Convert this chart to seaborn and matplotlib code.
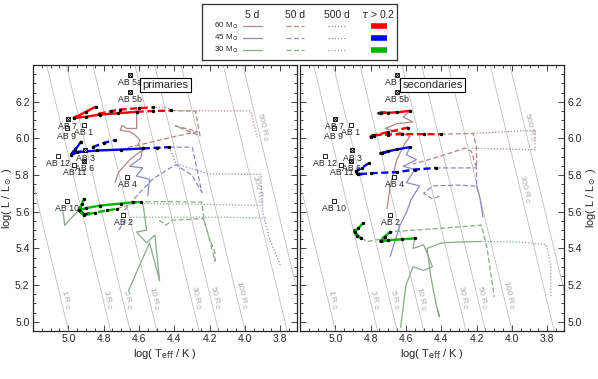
import numpy as np
import matplotlib
matplotlib.use('Agg')
import matplotlib.pyplot as plt
import seaborn as sns

sns.set_style('ticks')
plt.rcParams['font.family'] = ['Liberation Sans', 'DejaVu Sans']
plt.rcParams['mathtext.fontset'] = 'dejavusans'

# colours
C60, C45, C30 = '#b38686', '#8b8bbf', '#8aa98a'
T60, T45, T30 = '#ff0000', '#0000ff', '#00b400'

# observed stars (log Teff, log L)
AB_NAMES = ['AB 1', 'AB 2', 'AB 3', 'AB 4', 'AB 5a', 'AB 5b', 'AB 6', 'AB 7', 'AB 9', 'AB 10', 'AB 11', 'AB 12']
AB_T = [4.911, 4.690, 4.904, 4.665, 4.652, 4.652, 4.909, 5.004, 5.009, 5.005, 4.965, 5.061]
AB_L = [6.073, 5.580, 5.934, 5.789, 6.348, 6.252, 5.879, 6.104, 6.054, 5.658, 5.857, 5.905]
AB_CROSS = [False, False, True, False, True, True, True, True, False, False, False, False]

# radius lines
RADII = [1, 3, 5, 10, 30, 50, 100, 300, 500]
RAD_LABEL_L = {1: 5.12, 3: 5.12, 5: 5.12, 10: 5.125, 30: 5.13, 50: 5.13, 100: 5.145, 300: 5.72, 500: 6.06}

# ---------------- primaries ----------------
P60_5D_TAU_T = [4.846, 4.90, 4.967, 4.90, 4.818, 4.72, 4.613]
P60_5D_TAU_L = [6.172, 6.145, 6.112, 6.118, 6.130, 6.137, 6.145]
P60_5D_T = [4.613, 4.613, 4.668, 4.696, 4.706, 4.65, 4.622, 4.594, 4.604, 4.578, 4.652, 4.717, 4.735]
P60_5D_L = [6.145, 6.054, 6.054, 6.071, 6.045, 6.036, 6.018, 5.991, 5.964, 5.938, 5.884, 5.813, 5.759]
P60_50D_TAU_T = [4.613, 4.52, 4.42]
P60_50D_TAU_L = [6.145, 6.149, 6.152]
P60_50D_T = [4.42, 4.28, 4.254, 4.393, 4.30, 4.27, 4.40, 4.55, 4.678]
P60_50D_L = [6.152, 6.148, 6.014, 6.068, 6.045, 6.036, 6.010, 5.975, 5.947]
P60_500D_TAU_T = [4.828, 4.76, 4.707, 4.60, 4.522]
P60_500D_TAU_L = [6.134, 6.148, 6.157, 6.165, 6.169]
P60_500D_T = [4.522, 4.45, 4.40, 4.20, 3.967, 3.95, 3.93]
P60_500D_L = [6.169, 6.170, 6.152, 6.150, 6.150, 6.08, 6.005]

P45_5D_TAU_T = [4.928, 4.96, 4.983, 4.95, 4.835, 4.70, 4.578]
P45_5D_TAU_L = [5.982, 5.94, 5.911, 5.925, 5.934, 5.939, 5.945]
P45_5D_T = [4.578, 4.59, 4.652, 4.578, 4.615, 4.54, 4.55]
P45_5D_L = [5.945, 5.893, 5.848, 5.839, 5.795, 5.777, 5.687]
P45_50D_TAU_T = [4.578, 4.50, 4.428]
P45_50D_TAU_L = [5.945, 5.949, 5.952]
P45_50D_T = [4.428, 4.298, 4.244, 4.30, 4.393, 4.52, 4.60, 4.689, 4.678, 4.715]
P45_50D_L = [5.952, 5.952, 5.706, 5.80, 5.857, 5.78, 5.70, 5.60, 5.55, 5.50]
P45_500D_TAU_T = [4.863, 4.80, 4.733]
P45_500D_TAU_L = [5.952, 5.975, 5.991]
P45_500D_T = [4.428, 4.39, 4.20, 3.91, 3.90, 3.86, 3.80]
P45_500D_L = [5.952, 5.86, 5.806, 5.804, 5.60, 5.45, 5.31]

P30_5D_TAU_T = [4.911, 4.925, 4.939, 4.90, 4.818, 4.70, 4.633, 4.587]
P30_5D_TAU_L = [5.67, 5.64, 5.607, 5.62, 5.634, 5.645, 5.652, 5.652]
P30_5D_T = [4.587, 4.576, 4.557, 4.613, 4.557, 4.51, 4.483, 4.54, 4.60, 4.659]
P30_5D_L = [5.652, 5.634, 5.50, 5.49, 5.43, 5.473, 5.223, 5.43, 5.30, 5.17]
P30_5D_PRE_T = [4.939, 4.99, 5.02, 5.03]
P30_5D_PRE_L = [5.607, 5.56, 5.525, 5.60]
P30_50D_TAU_T = [4.939, 4.911, 4.85, 4.78, 4.726]
P30_50D_TAU_L = [5.607, 5.58, 5.595, 5.607, 5.616]
P30_50D_T = [4.726, 4.65, 4.587, 4.40, 4.244, 4.23, 4.20, 4.17, 4.168]
P30_50D_L = [5.616, 5.64, 5.655, 5.655, 5.652, 5.55, 5.45, 5.38, 5.32]
P30_50D_B_T = [4.485, 4.448, 4.41, 4.235, 4.20, 4.17]
P30_50D_B_L = [5.554, 5.527, 5.554, 5.563, 5.45, 5.33]
P30_500D_T = [4.587, 4.40, 4.20, 3.91]
P30_500D_L = [5.645, 5.642, 5.640, 5.634]
P30_500D_B_T = [4.65, 4.40, 4.10, 3.87]
P30_500D_B_L = [5.57, 5.57, 5.57, 5.565]

# ---------------- secondaries ----------------
S60_5D_TAU_T = [4.744, 4.70, 4.65, 4.578]
S60_5D_TAU_L = [6.139, 6.140, 6.142, 6.150]
S60_5D_T = [4.578, 4.615, 4.56, 4.652, 4.717, 4.615, 4.578, 4.606, 4.652, 4.689, 4.707]
S60_5D_L = [6.150, 6.116, 6.089, 6.080, 6.054, 6.027, 6.009, 5.973, 5.884, 5.741, 5.616]
S60_50D_TAU_T = [4.587, 4.70, 4.78, 4.799, 4.78, 4.70, 4.624, 4.50, 4.403]
S60_50D_TAU_L = [6.059, 6.035, 6.015, 6.009, 6.018, 6.021, 6.023, 6.023, 6.023]
S60_50D_T = [4.403, 4.219, 4.20, 4.20, 4.23, 4.265, 4.35, 4.50, 4.56]
S60_50D_L = [6.023, 6.027, 5.95, 5.84, 5.93, 5.947, 5.92, 5.876, 5.86]
S60_500D_T = [4.219, 3.869, 3.869, 4.228]
S60_500D_L = [6.027, 6.045, 5.937, 5.947]

S45_5D_TAU_T = [4.735, 4.70, 4.65, 4.578]
S45_5D_TAU_L = [5.920, 5.930, 5.940, 5.952]
S45_5D_T = [4.578, 4.597, 4.541, 4.615, 4.55, 4.597, 4.523, 4.569, 4.597, 4.634, 4.689]
S45_5D_L = [5.952, 5.911, 5.884, 5.848, 5.830, 5.759, 5.741, 5.670, 5.598, 5.527, 5.357]
S45_50D_TAU_T = [4.808, 4.85, 4.882, 4.873, 4.80, 4.652, 4.55, 4.431]
S45_50D_TAU_L = [5.866, 5.840, 5.821, 5.804, 5.810, 5.816, 5.830, 5.839]
S45_50D_T = [4.431, 4.20, 4.20, 4.30, 4.449, 4.50, 4.45, 4.40]
S45_50D_L = [5.839, 5.839, 5.740, 5.745, 5.741, 5.700, 5.670, 5.690]
S45_50D_B_T = [4.20, 4.18, 4.164]
S45_50D_B_L = [5.74, 5.67, 5.572]

S30_5D_TAU_T = [4.689, 4.72, 4.744, 4.70, 4.62, 4.55]
S30_5D_TAU_L = [5.491, 5.465, 5.438, 5.445, 5.450, 5.455]
S30_5D_T = [4.55, 4.56, 4.50, 4.45, 4.50, 4.56, 4.60, 4.63]
S30_5D_L = [5.455, 5.40, 5.42, 5.30, 5.28, 5.30, 5.20, 4.97]
S30_5D_B_T = [4.48, 4.46, 4.43, 4.41, 4.42]
S30_5D_B_L = [5.40, 5.25, 5.10, 5.027, 5.06]
S30_5D_C_T = [4.48, 4.40, 4.30, 4.173]
S30_5D_C_L = [5.40, 5.43, 5.435, 5.438]
S30_50D_TAU_T = [4.845, 4.87, 4.891, 4.875, 4.855]
S30_50D_TAU_L = [5.536, 5.51, 5.491, 5.47, 5.455]
S30_50D_T = [4.855, 4.818, 4.75, 4.689, 4.40, 4.173, 4.14, 4.10]
S30_50D_L = [5.455, 5.438, 5.45, 5.491, 5.51, 5.527, 5.40, 5.134]
S30_500D_T = [4.173, 3.95, 3.805, 3.78, 3.78]
S30_500D_L = [5.438, 5.435, 5.42, 5.30, 5.13]

# black (observed-phase) pieces
BLACK_P_T = [[4.95, 4.967, 4.94], [4.97, 4.983, 4.96, 4.93], [4.93, 4.939, 4.91, 4.88]]
BLACK_P_L = [[6.12, 6.112, 6.117], [5.93, 5.911, 5.922, 5.927], [5.625, 5.607, 5.585, 5.59]]
BLACK_S_T = [[4.755, 4.744, 4.72], [4.79, 4.799, 4.78], [4.745, 4.735, 4.71],
             [4.882, 4.878, 4.873, 4.85], [4.89, 4.891, 4.875, 4.865], [4.72, 4.744, 4.73]]
BLACK_S_L = [[6.137, 6.139, 6.14], [6.015, 6.009, 6.016], [5.918, 5.92, 5.926],
             [5.821, 5.81, 5.804, 5.806], [5.50, 5.491, 5.47, 5.462], [5.46, 5.438, 5.44]]

LS = {'5d': '-', '50d': (0, (4, 2)), '500d': (0, (1, 1.5))}


def track(ax, t, l, color, ls, lw=0.9):
    sns.lineplot(x=t, y=l, sort=False, estimator=None, ax=ax, color=color,
                 linestyle=ls, linewidth=lw, legend=False, zorder=2)


def tau(ax, t, l, color, ls):
    sns.lineplot(x=t, y=l, sort=False, estimator=None, ax=ax, color=color,
                 linestyle=ls, linewidth=1.7, legend=False, zorder=3,
                 marker='o', markersize=1.7, markerfacecolor='k', markeredgecolor='k')


fig = plt.figure(figsize=(5.98, 3.79), dpi=100)
ax1 = fig.add_axes([33/598, 1-331/379, 264/598, 266/379])
ax2 = fig.add_axes([300/598, 1-331/379, 264/598, 266/379])

for ax in (ax1, ax2):
    ax.set_xlim(5.18, 3.705)
    ax.set_ylim(4.955, 6.40)
    # constant radius lines
    ll = np.linspace(4.9, 6.5, 20)
    for r in RADII:
        tt = 3.7613 + (ll - 2 * np.log10(r)) / 4
        ax.plot(tt, ll, color='#b4b4b4', lw=0.5, zorder=1)
        lab = RAD_LABEL_L[r]
        tl = 3.7613 + (lab - 2 * np.log10(r)) / 4
        ax.annotate(f'{r} R$_\\odot$', (tl, lab), xytext=(3.5, 0), textcoords='offset points',
                    rotation=-76, rotation_mode='anchor', ha='center', va='center',
                    fontsize=6, color='#a8a8a8', zorder=1)

    ax.set_xticks([5.0, 4.8, 4.6, 4.4, 4.2, 4.0, 3.8])
    ax.set_yticks([5.0, 5.2, 5.4, 5.6, 5.8, 6.0, 6.2])
    ax.set_xticks(np.arange(3.75, 5.2, 0.05), minor=True)
    ax.set_yticks(np.arange(4.95, 6.41, 0.05), minor=True)
    ax.xaxis.set_major_formatter(matplotlib.ticker.FormatStrFormatter('%.1f'))
    ax.yaxis.set_major_formatter(matplotlib.ticker.FormatStrFormatter('%.1f'))
    ax.tick_params(which='both', direction='in', top=True, right=True, left=True, bottom=True,
                   labelsize=7.5, width=0.6, pad=2.5)
    ax.tick_params(which='major', length=4)
    ax.tick_params(which='minor', length=2)
    for s in ax.spines.values():
        s.set_linewidth(0.9)
    ax.set_xlabel(r'log( T$_{\rm eff}$ / K )', fontsize=8, labelpad=2)

# primaries
track(ax1, P60_5D_T, P60_5D_L, C60, LS['5d'])
track(ax1, P60_50D_T, P60_50D_L, C60, LS['50d'])
track(ax1, P60_500D_T, P60_500D_L, C60, LS['500d'])
track(ax1, P45_5D_T, P45_5D_L, C45, LS['5d'])
track(ax1, P45_50D_T, P45_50D_L, C45, LS['50d'])
track(ax1, P45_500D_T, P45_500D_L, C45, LS['500d'])
track(ax1, P30_5D_T, P30_5D_L, C30, LS['5d'])
track(ax1, P30_5D_PRE_T, P30_5D_PRE_L, C30, LS['5d'])
track(ax1, P30_50D_T, P30_50D_L, C30, LS['50d'])
track(ax1, P30_50D_B_T, P30_50D_B_L, C30, LS['50d'])
track(ax1, P30_500D_T, P30_500D_L, C30, LS['500d'])
track(ax1, P30_500D_B_T, P30_500D_B_L, C30, LS['500d'])
tau(ax1, P60_5D_TAU_T, P60_5D_TAU_L, T60, '-')
tau(ax1, P60_50D_TAU_T, P60_50D_TAU_L, T60, (0, (3, 1.5)))
tau(ax1, P60_500D_TAU_T, P60_500D_TAU_L, T60, (0, (3, 1.5)))
tau(ax1, P45_5D_TAU_T, P45_5D_TAU_L, T45, '-')
tau(ax1, P45_50D_TAU_T, P45_50D_TAU_L, T45, (0, (3, 1.5)))
tau(ax1, P45_500D_TAU_T, P45_500D_TAU_L, T45, (0, (3, 1.5)))
tau(ax1, P30_5D_TAU_T, P30_5D_TAU_L, T30, '-')
tau(ax1, P30_50D_TAU_T, P30_50D_TAU_L, T30, (0, (3, 1.5)))
for t, l in zip(BLACK_P_T, BLACK_P_L):
    track(ax1, t, l, 'k', '-', lw=2.0)

# secondaries
track(ax2, S60_5D_T, S60_5D_L, C60, LS['5d'])
track(ax2, S60_50D_T, S60_50D_L, C60, LS['50d'])
track(ax2, S60_500D_T, S60_500D_L, C60, LS['500d'])
track(ax2, S45_5D_T, S45_5D_L, C45, LS['5d'])
track(ax2, S45_50D_T, S45_50D_L, C45, LS['50d'])
track(ax2, S45_50D_B_T, S45_50D_B_L, C45, LS['5d'])
track(ax2, S30_5D_T, S30_5D_L, C30, LS['5d'])
track(ax2, S30_5D_B_T, S30_5D_B_L, C30, LS['5d'])
track(ax2, S30_5D_C_T, S30_5D_C_L, C30, LS['5d'])
track(ax2, S30_50D_T, S30_50D_L, C30, LS['50d'])
track(ax2, S30_500D_T, S30_500D_L, C30, LS['500d'])
tau(ax2, S60_5D_TAU_T, S60_5D_TAU_L, T60, '-')
tau(ax2, S60_50D_TAU_T, S60_50D_TAU_L, T60, (0, (3, 1.5)))
tau(ax2, S45_5D_TAU_T, S45_5D_TAU_L, T45, '-')
tau(ax2, S45_50D_TAU_T, S45_50D_TAU_L, T45, (0, (3, 1.5)))
tau(ax2, S30_5D_TAU_T, S30_5D_TAU_L, T30, '-')
tau(ax2, S30_50D_TAU_T, S30_50D_TAU_L, T30, '-')
for t, l in zip(BLACK_S_T, BLACK_S_L):
    track(ax2, t, l, 'k', '-', lw=2.0)

# observed stars and labels
for ax, title in ((ax1, 'primaries'), (ax2, 'secondaries')):
    sns.scatterplot(x=AB_T, y=AB_L, marker='s', s=9, facecolor='white', edgecolor='k',
                    linewidth=0.6, ax=ax, zorder=5, legend=False)
    xt = [t for t, c in zip(AB_T, AB_CROSS) if c]
    xl = [l for l, c in zip(AB_L, AB_CROSS) if c]
    ax.scatter(xt, xl, marker='x', s=6, color='k', linewidths=0.6, zorder=6)
    for name, t, l in zip(AB_NAMES, AB_T, AB_L):
        ax.annotate(name, (t, l), xytext=(0, -2.2), textcoords='offset points',
                    ha='center', va='top', fontsize=6.3, zorder=6)
    ax.text(0.502, 0.925, title, transform=ax.transAxes, ha='center', va='center', fontsize=8,
            zorder=8, bbox=dict(boxstyle='square,pad=0.2', fc='white', ec='k', lw=0.8))

ax1.set_ylabel(r'log( L / L$_\odot$ )', fontsize=8)
ax1.yaxis.set_label_coords(-0.072, 0.5)
ax2.tick_params(labelleft=False, labelright=True)
ax2.yaxis.set_label_position('right')
ax2.set_ylabel(r'log( L / L$_\odot$ )', fontsize=7.8)
ax2.yaxis.set_label_coords(1.076, 0.5)

# legend box
LEG_HEAD = ['5 d', '50 d', '500 d', r'$\tau$ > 0.2']
LEG_MASS = ['60', '45', '30']
LEG_TRACK = [C60, C45, C30]
LEG_TAU = [T60, T45, T30]
lax = fig.add_axes([202/598, 1-60/379, 195/598, 56/379])
lax.set_xlim(202, 397)
lax.set_ylim(60, 4)
lax.set_xticks([])
lax.set_yticks([])
for s in lax.spines.values():
    s.set_linewidth(0.9)
    s.set_color('#333333')
head_x = [252, 295, 337, 378]
for x, h in zip(head_x, LEG_HEAD):
    lax.text(x, 14.5, h, ha='center', va='center', fontsize=7.5)
row_y = [25.5, 37.5, 49.5]
for y, m, c, tc in zip(row_y, LEG_MASS, LEG_TRACK, LEG_TAU):
    lax.text(214, y, f'{m} M$_\\odot$', ha='left', va='center', fontsize=5.8)
    lax.plot([243, 262], [y, y], color=c, lw=0.9, ls=LS['5d'])
    lax.plot([286, 304], [y, y], color=c, lw=0.9, ls=LS['50d'])
    lax.plot([328, 346], [y, y], color=c, lw=0.9, ls=LS['500d'])
    lax.plot([371, 387], [y, y], color=tc, lw=4, solid_capstyle='butt')

fig.savefig('out.png', dpi=100)
